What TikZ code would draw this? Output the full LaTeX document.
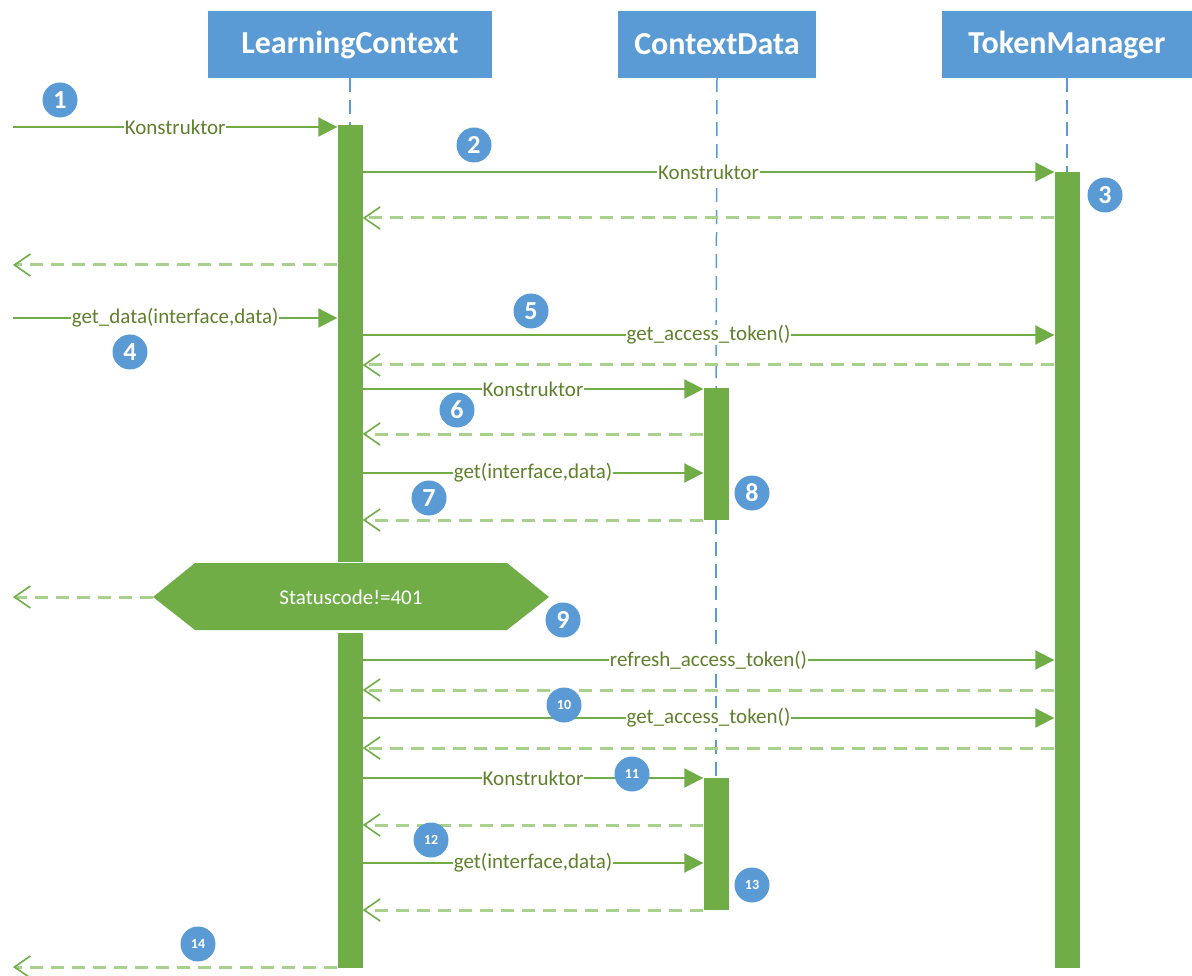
\documentclass[tikz,border=0pt]{standalone}
\usepackage{fontspec}
\setmainfont{Carlito}
\usetikzlibrary{arrows.meta}

\definecolor{headblue}{RGB}{91,155,213}
\definecolor{bargreen}{RGB}{112,173,71}
\definecolor{retgreen}{RGB}{169,209,142}
\definecolor{msgtext}{RGB}{96,128,46}

\tikzset{
  head/.style={fill=headblue, text=white, font=\fontsize{32}{32}\selectfont\bfseries,
    minimum height=67pt, inner sep=0pt},
  actbar/.style={fill=bargreen, minimum width=25pt, inner sep=0pt, anchor=north},
  lifeline/.style={headblue, line width=1.5pt, dash pattern=on 14pt off 8pt},
  call/.style={bargreen, line width=2pt, -{Triangle[length=19pt,width=19pt]}},
  reply/.style={retgreen, line width=3pt, dash pattern=on 13pt off 8pt,
    -{Straight Barb[length=16pt,width=22pt,line width=1.6pt,color=bargreen]}},
  msg/.style={fill=white, text=msgtext, font=\fontsize{21}{21}\selectfont, inner sep=1pt},
  badge/.style={circle, fill=headblue, text=white, minimum size=35pt, inner sep=0pt,
    font=\fontsize{26}{26}\selectfont\bfseries},
  smallbadge/.style={badge, font=\fontsize{14}{14}\selectfont\bfseries}
}

\begin{document}
\begin{tikzpicture}[x=1pt, y=-1pt]
    \useasboundingbox (0,0) rectangle (1192,976);

    % Objects
    \node[head, minimum width=284pt] (lc) at (350,44.5) {LearningContext};
    \node[head, minimum width=198pt] (cd) at (717,44.5) {ContextData};
    \node[head, minimum width=250pt] (tm) at (1067,44.5) {TokenManager};

    % Activation bars
    \node[actbar, minimum height=437pt] (lcbar1) at (350,125) {};
    \node[actbar, minimum height=335pt] (lcbar2) at (350,633) {};
    \node[actbar, minimum height=796pt] (tmbar) at (1067,172) {};
    \node[actbar, minimum height=132pt] (cdbar1) at (716,388) {};
    \node[actbar, minimum height=132pt] (cdbar2) at (716,778) {};

    % Lifelines
    \draw[lifeline] (lc.south) -- (lcbar1.north);
    \draw[lifeline] (tm.south) -- (tmbar.north);
    \draw[lifeline] (cd.south) -- (cdbar1.north);
    \draw[lifeline] (cdbar1.south) -- (cdbar2.north);

    % Caller outside the picture and message rows
    \coordinate (env) at (13,0);
    \coordinate (r1) at (0,127);
    \coordinate (r2) at (0,172);
    \coordinate (r3) at (0,218);
    \coordinate (r4) at (0,265);
    \coordinate (r5) at (0,318);
    \coordinate (r6) at (0,335);
    \coordinate (r7) at (0,365);
    \coordinate (r8) at (0,389);
    \coordinate (r9) at (0,434);
    \coordinate (r10) at (0,473);
    \coordinate (r11) at (0,520);
    \coordinate (r13) at (0,660);
    \coordinate (r14) at (0,690);
    \coordinate (r15) at (0,718);
    \coordinate (r16) at (0,748);
    \coordinate (r17) at (0,778);
    \coordinate (r18) at (0,825);
    \coordinate (r19) at (0,863);
    \coordinate (r20) at (0,910);
    \coordinate (r21) at (0,967);

    % Status check
    \coordinate (hexl) at (153,597);
    \fill[bargreen] (hexl) -- (195,563) -- (507,563) -- (549,597) -- (507,630) -- (195,630) -- cycle;
    \node[text=white, font=\fontsize{21}{21}\selectfont] (check) at (351,597) {Statuscode!=401};

    % Messages
    \draw[call] (env |- r1) -- node[msg] {Konstruktor} (lcbar1.west |- r1);
    \draw[call] (lcbar1.east |- r2) -- node[msg] {Konstruktor} (tmbar.west |- r2);
    \draw[reply] (tmbar.west |- r3) -- (lcbar1.east |- r3);
    \draw[reply] (lcbar1.west |- r4) -- (env |- r4);
    \draw[call] (env |- r5) -- node[msg] {get\_data(interface,data)} (lcbar1.west |- r5);
    \draw[call] (lcbar1.east |- r6) -- node[msg] {get\_access\_token()} (tmbar.west |- r6);
    \draw[reply] (tmbar.west |- r7) -- (lcbar1.east |- r7);
    \draw[call] (lcbar1.east |- r8) -- node[msg] {Konstruktor} (cdbar1.west |- r8);
    \draw[reply] (cdbar1.west |- r9) -- (lcbar1.east |- r9);
    \draw[call] (lcbar1.east |- r10) -- node[msg] {get(interface,data)} (cdbar1.west |- r10);
    \draw[reply] (cdbar1.west |- r11) -- (lcbar1.east |- r11);
    \draw[reply] (hexl) -- (env |- hexl);
    \draw[call] (lcbar2.east |- r13) -- node[msg] {refresh\_access\_token()} (tmbar.west |- r13);
    \draw[reply] (tmbar.west |- r14) -- (lcbar2.east |- r14);
    \draw[call] (lcbar2.east |- r15) -- node[msg] {get\_access\_token()} (tmbar.west |- r15);
    \draw[reply] (tmbar.west |- r16) -- (lcbar2.east |- r16);
    \draw[call] (lcbar2.east |- r17) -- node[msg] {Konstruktor} (cdbar2.west |- r17);
    \draw[reply] (cdbar2.west |- r18) -- (lcbar2.east |- r18);
    \draw[call] (lcbar2.east |- r19) -- node[msg] {get(interface,data)} (cdbar2.west |- r19);
    \draw[reply] (cdbar2.west |- r20) -- (lcbar2.east |- r20);
    \draw[reply] (lcbar2.west |- r21) -- (env |- r21);

    % Step numbers
    \foreach \n/\x/\y in {1/60/100, 2/474/145, 3/1105/195, 4/130/352, 5/531/311,
                          6/457/410, 7/429/498, 8/752/493, 9/563/620}
        \node[badge] (b\n) at (\x,\y) {\n};
    \foreach \n/\x/\y in {10/564/705, 11/632/774, 12/431/840, 13/752/885, 14/198/944}
        \node[smallbadge] (b\n) at (\x,\y) {\n};
\end{tikzpicture}
\end{document}
